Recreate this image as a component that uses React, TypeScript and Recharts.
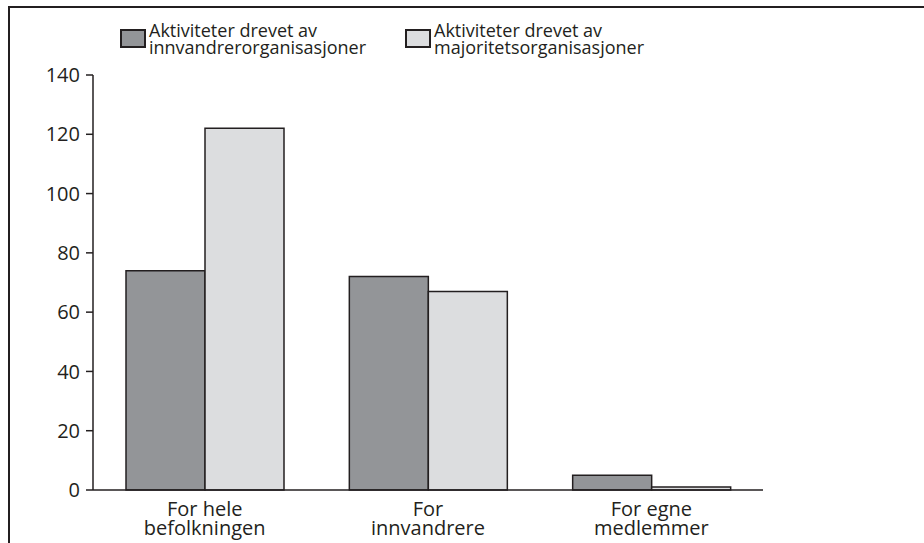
import { BarChart, Bar, XAxis, YAxis, Legend } from 'recharts';

// Categories and values
const categories = ['For hele\nbefolkningen', 'For\ninnvandrere', 'For egne\nmedlemmer'];
const innvandrerValues = [74, 72, 5];
const majoritetValues = [122, 67, 1];
const yTicks = [0, 20, 40, 60, 80, 100, 120, 140];

const seriesNames = {
  innv: 'Aktiviteter drevet av\ninnvandrerorganisasjoner',
  maj: 'Aktiviteter drevet av\nmajoritetsorganisasjoner',
};

const data = categories.map((c, i) => ({
  category: c,
  innv: innvandrerValues[i],
  maj: majoritetValues[i],
}));

const FONT = '"Open Sans", sans-serif';
const INK = '#231f20';

function CategoryTick(props: any) {
  const { x, y, payload } = props;
  const lines = String(payload.value).split('\n');
  return (
    <text x={x} y={y} textAnchor="middle" fill={INK} fontSize={20} fontFamily={FONT}>
      {lines.map((l, i) => (
        <tspan key={i} x={x} dy={i === 0 ? 18 : 19}>
          {l}
        </tspan>
      ))}
    </text>
  );
}

function LegendBox(props: any) {
  const items = props.payload || [];
  return (
    <div style={{ display: 'flex', fontFamily: FONT, fontSize: 18, color: INK, lineHeight: '17px', height: 34 }}>
      {items.map((it: any, i: number) => (
        <div key={i} style={{ display: 'flex', alignItems: 'flex-start', width: 285 }}>
          <div
            style={{
              width: 22,
              height: 15,
              background: it.color,
              border: `2px solid ${INK}`,
              marginTop: 7,
              marginRight: 3,
            }}
          />
          <div style={{ whiteSpace: 'pre' }}>{seriesNames[it.dataKey as 'innv' | 'maj']}</div>
        </div>
      ))}
    </div>
  );
}

export default function App() {
  return (
    <div style={{ position: 'absolute', left: 0, top: 0, width: 924, height: 543, background: '#fff', overflow: 'hidden' }}>
      <div
        style={{
          position: 'absolute',
          left: 8,
          top: 6,
          width: 916,
          height: 560,
          borderTop: `2px solid ${INK}`,
          borderLeft: `2px solid ${INK}`,
        }}
      />
      <BarChart
        width={924}
        height={543}
        data={data}
        margin={{ top: 41, right: 161, bottom: 23, left: 0 }}
        barGap={0}
        barCategoryGap={33}
      >
        <XAxis
          dataKey="category"
          axisLine={{ stroke: INK, strokeWidth: 1.5 }}
          tickLine={false}
          tick={<CategoryTick />}
          interval={0}
        />
        <XAxis xAxisId="top" orientation="top" dataKey="category" tick={false} tickLine={false} axisLine={{ stroke: INK, strokeWidth: 1.5 }} height={0} />
        <YAxis
          domain={[0, 140]}
          ticks={yTicks}
          width={93}
          tickSize={7}
          tickMargin={6}
          axisLine={{ stroke: INK, strokeWidth: 1.5 }}
          tickLine={{ stroke: INK, strokeWidth: 1.5 }}
          tick={{ fill: INK, fontSize: 20, fontFamily: FONT }}
          interval={0}
        />
        <YAxis yAxisId="right" orientation="right" domain={[0, 140]} tick={false} tickLine={false} axisLine={{ stroke: INK, strokeWidth: 1.5 }} width={0} />
        <Legend
          verticalAlign="top"
          align="left"
          content={<LegendBox />}
          wrapperStyle={{ top: 22, left: 120, width: 600 }}
        />
        <Bar dataKey="innv" fill="#939598" stroke={INK} strokeWidth={1.5} isAnimationActive={false} />
        <Bar dataKey="maj" fill="#dcdddf" stroke={INK} strokeWidth={1.5} isAnimationActive={false} />
      </BarChart>
    </div>
  );
}
